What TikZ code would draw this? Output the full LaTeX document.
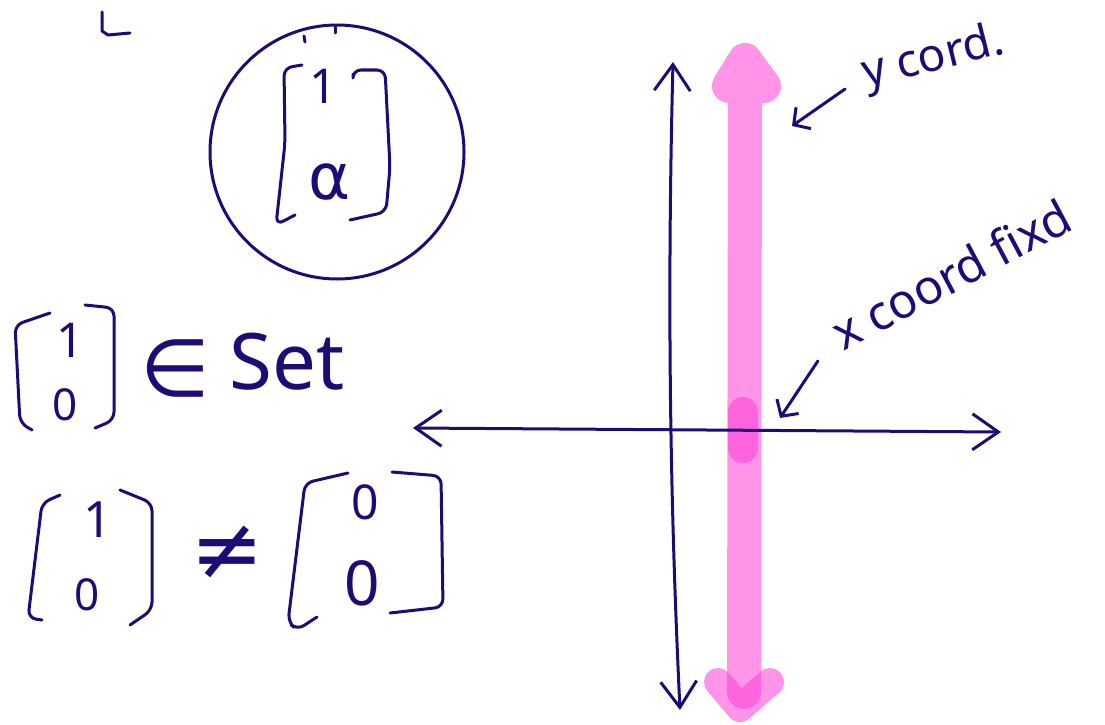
\documentclass[tikz,border=0pt]{standalone}
\usepackage{fontspec}
\setmainfont{Noto Sans}
\newfontfamily\symfont{DejaVu Sans}
\usepackage{tikz}
\usetikzlibrary{arrows.meta}
\definecolor{ink}{RGB}{28,12,118}
\definecolor{marker}{RGB}{255,60,215}
\tikzset{
  ink/.style={draw=ink, line width=3pt, line cap=round, line join=round},
  brk/.style={ink, rounded corners=8pt},
  inkarr/.style={ink, -{Straight Barb[length=12pt, width=26pt, line width=3pt]}},
  axis/.style={ink, {Straight Barb[length=26pt, width=36pt]}-{Straight Barb[length=26pt, width=36pt]}},
  hl/.style={draw=marker, draw opacity=0.55, line width=34pt, line cap=round, line join=round},
  scrawl/.style={text=ink, inner sep=0pt, font=\fontsize{#1}{#1}\selectfont},
  glyph/.style={text=ink, inner sep=0pt, font=\symfont\fontsize{#1}{#1}\selectfont},
}

\begin{document}
\begin{tikzpicture}[x=1pt, y=-1pt]

  \useasboundingbox (0,0) rectangle (1105,725);

  % stray mark top left
  \draw[ink] (102,12) -- (102,31) -- (108,35) -- (130,33);

  % circled vector
  \node[ink, circle, minimum size=254pt, inner sep=0pt] (ring) at (337,152) {};
  \draw[ink] (304,36) -- (305,42);
  \draw[ink] (335,27) -- (335,33);
  \draw[brk] (302,65) -- (284,68) -- (285,143) -- (276,225) -- (295,215);
  \draw[brk] (353,74) -- (353,70) -- (385,70) -- (390,167) -- (386,212) -- (350,220);
  \node[scrawl=48] (circone) at (323,86) {1};
  \node[glyph=64] (circalpha) at (330,182) {α};

  % [1;0] in Set
  \draw[brk] (50,313) -- (15,325) -- (20,423) -- (32,430);
  \draw[brk] (85,305) -- (114,308) -- (114,420) -- (95,428);
  \node[scrawl=48] (setone) at (70,340) {1};
  \node[scrawl=44] (setzero) at (65,405) {0};
  \node[glyph=80] (elem) at (175,368) {∈};
  \node[scrawl=78] (setword) at (287,362) {Set};

  % [1;0] ne [0;0]
  \draw[brk] (60,495) -- (42,503) -- (28,618) -- (42,620);
  \draw[brk] (120,490) -- (152,503) -- (152,610) -- (130,625);
  \node[scrawl=50] (neone) at (98,520) {1};
  \node[scrawl=44] (nezero) at (87,595) {0};
  \node[glyph=88] (neq) at (227,553) {≠};
  \draw[brk] (348,473) -- (305,483) -- (288,622) -- (297,630) -- (317,617);
  \draw[brk] (392,472) -- (441,476) -- (443,607) -- (390,613);
  \node[scrawl=48] (zerotop) at (365,502) {0};
  \node[scrawl=62] (zerobot) at (362,583) {0};

  % pink highlight of the vertical line
  \draw[hl] (744,692) -- (745,92) (729,86) -- (745,60) -- (764,86) -- cycle;
  \draw[hl, line width=30pt] (743,412) -- (743,448);
  \draw[hl, line width=28pt] (718,682) -- (740,708) -- (770,682);

  % axes
  \coordinate (xleft) at (413,428);
  \coordinate (xright) at (1001,432);
  \coordinate (ytop) at (673,62);
  \coordinate (ybot) at (680,710);
  \draw[axis] (xleft) -- (xright);
  \draw[axis] (ytop) .. controls (667,300) and (670,500) .. (ybot);

  % notes
  \node[scrawl=46, rotate=14, anchor=base west] (ylbl) at (866,88) {y cord.};
  \node[scrawl=48, rotate=28, anchor=base west] (xlbl) at (843,352) {x coord fixd};
  \coordinate (ytip) at (792,126);
  \coordinate (xtip) at (780,418);
  \draw[inkarr, shorten <=22pt] (ylbl.west) -- (ytip);
  \draw[inkarr, shorten <=30pt] (xlbl.west) -- (xtip);

\end{tikzpicture}
\end{document}
